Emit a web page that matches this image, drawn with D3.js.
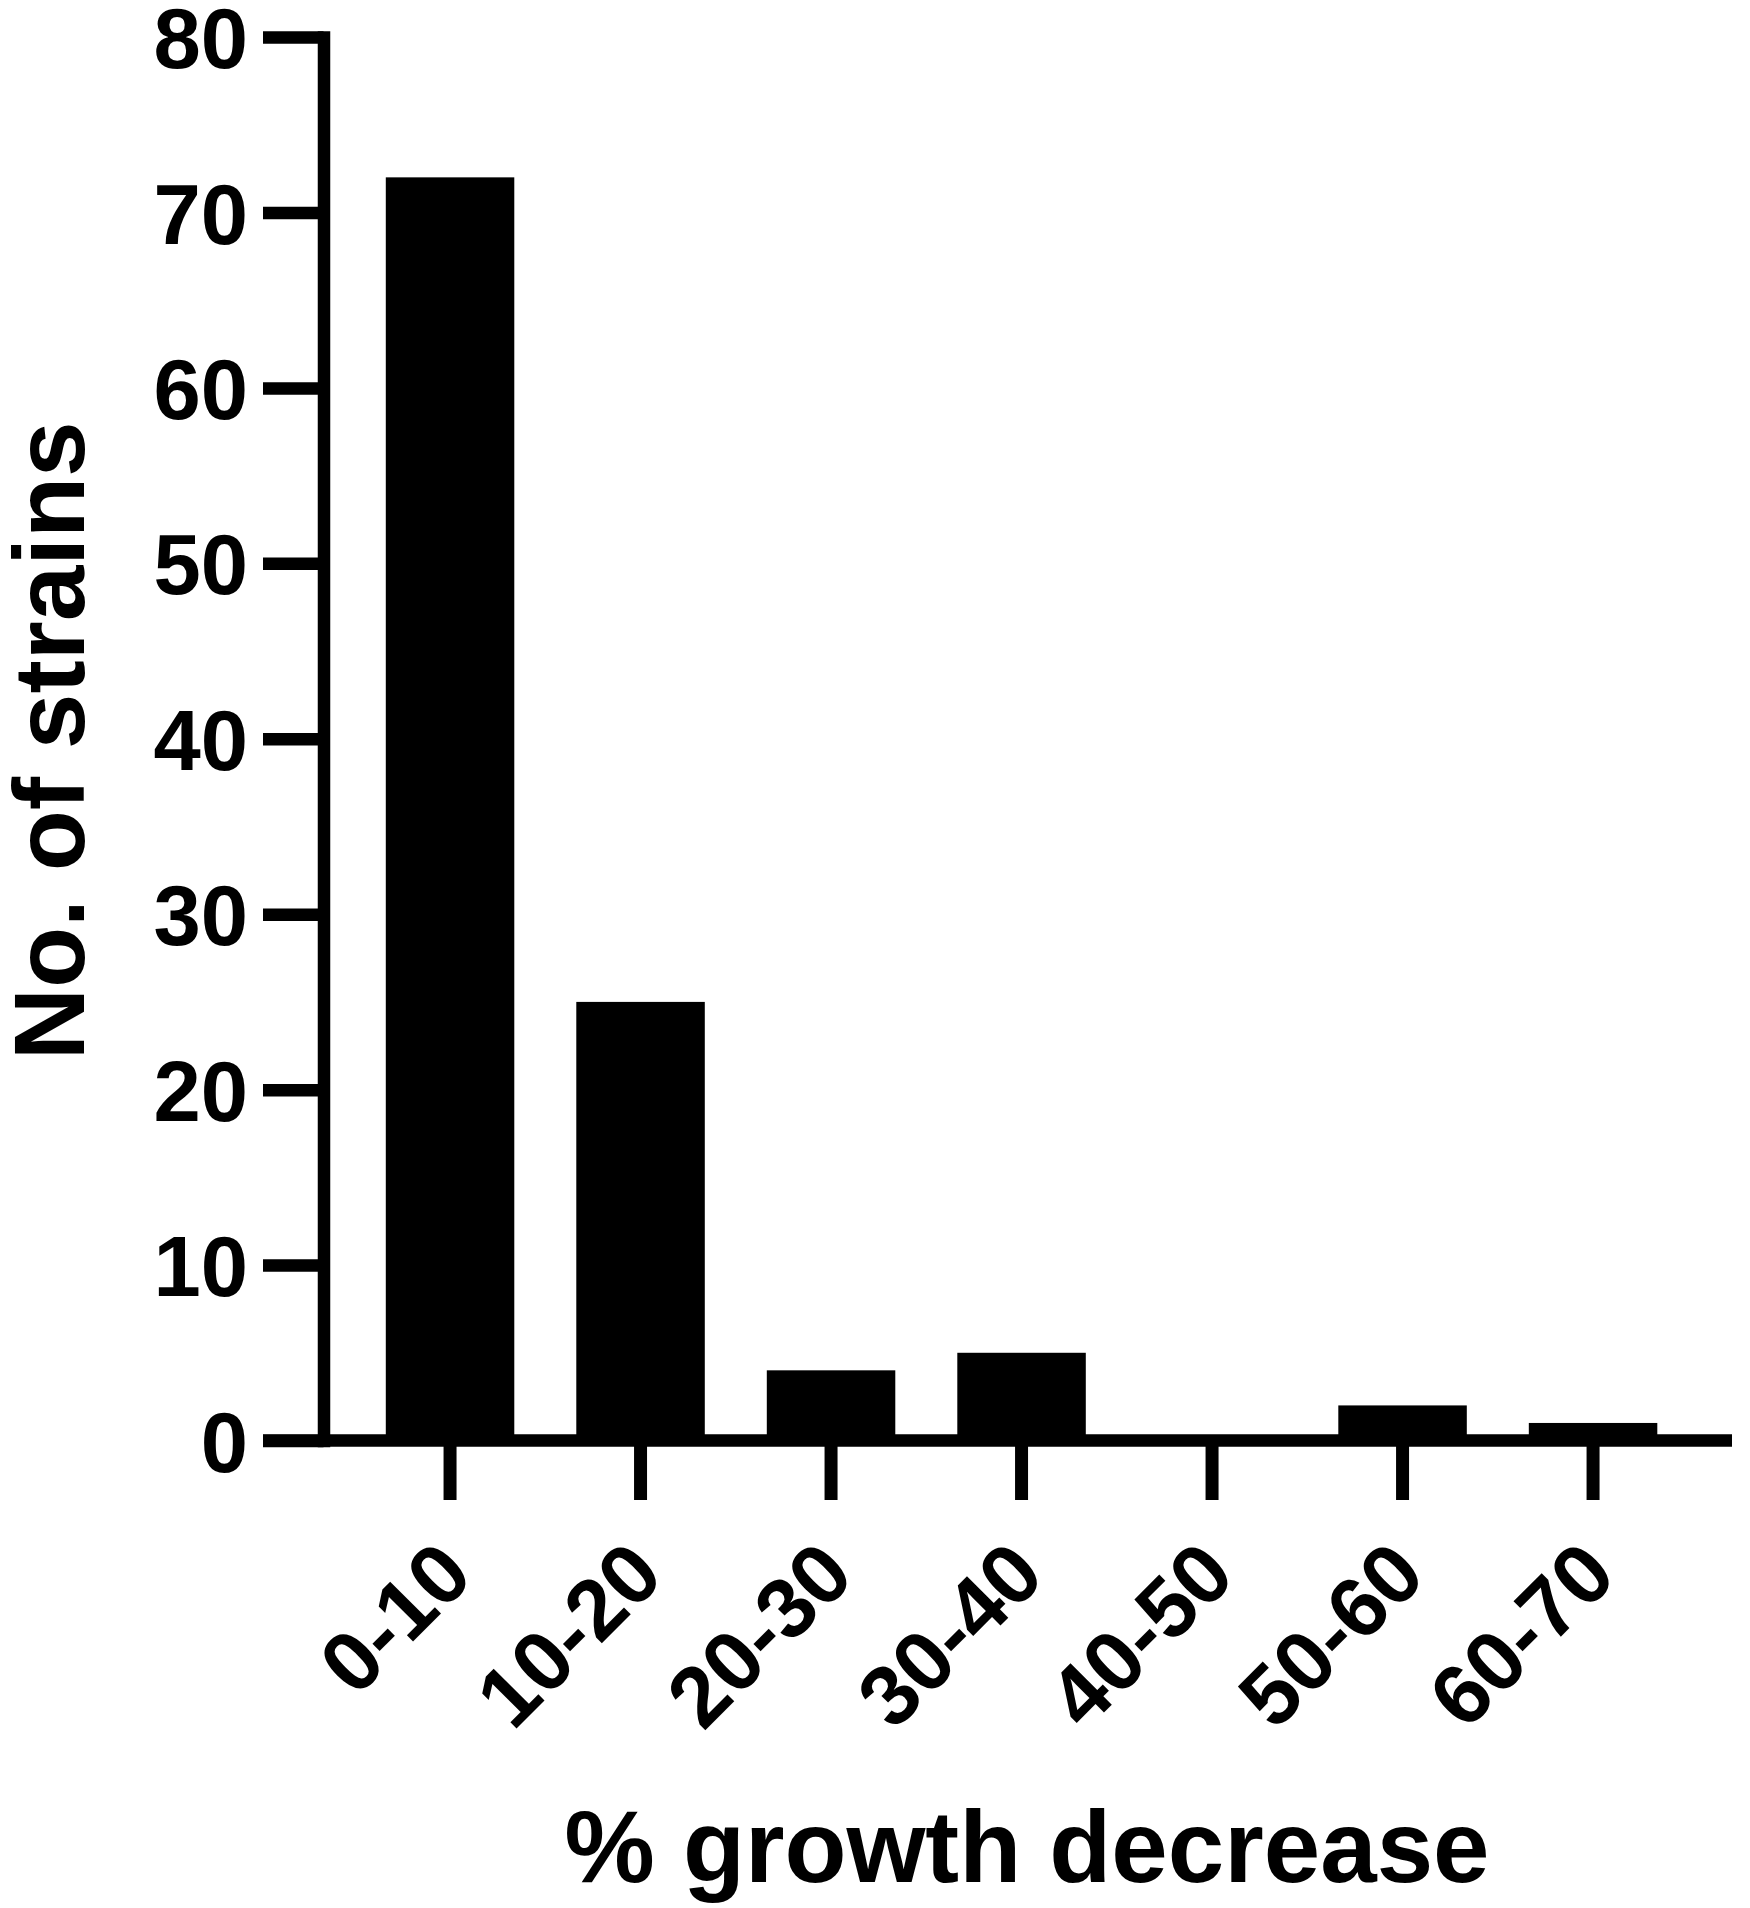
<!DOCTYPE html>
<html>
<head>
<meta charset="utf-8">
<script src="https://cdn.jsdelivr.net/npm/d3@7"></script>
<style>
  html, body { margin: 0; padding: 0; background: #fff; }
  svg { display: block; }
  text { font-family: "Liberation Sans", Arial, sans-serif; font-weight: bold; fill: #000; }
</style>
</head>
<body>
<svg id="chart" width="1750" height="1908"></svg>
<script>
// ---- data ----
const categories = ["0-10", "10-20", "20-30", "30-40", "40-50", "50-60", "60-70"];
const counts = [72, 25, 4, 5, 0, 2, 1];
const yTicks = [0, 10, 20, 30, 40, 50, 60, 70, 80];
const xTitle = "% growth decrease";
const yTitle = "No. of strains";

// ---- layout ----
const W = 1750, H = 1908;
const axisX = 323.5;      // y-axis line position
const baseY = 1440.5;     // x-axis line position
const topY = 37;
const lw = 12.5;          // line width
const tickLen = 60.5;

const svg = d3.select("#chart");

const y = d3.scaleLinear().domain([0, 80]).range([baseY, topY]);
const x = d3.scaleBand().domain(categories)
  .range([axisX, 1719.6])
  .paddingInner(0.3255)
  .paddingOuter(0.327);

// bars
svg.append("g").selectAll("rect")
  .data(categories.map((c, i) => ({c, v: counts[i]})))
  .join("rect")
  .attr("x", d => x(d.c))
  .attr("width", x.bandwidth())
  .attr("y", d => y(d.v))
  .attr("height", d => baseY - y(d.v))
  .attr("fill", "#000");

// y axis
const yAxis = svg.append("g")
  .attr("transform", `translate(${axisX},0)`)
  .call(d3.axisLeft(y).tickValues(yTicks).tickSize(tickLen).tickSizeOuter(0).tickFormat(d3.format("d")));
yAxis.select(".domain").attr("stroke", "#000").attr("stroke-width", lw).attr("stroke-linecap", "square");
yAxis.selectAll(".tick line").attr("stroke", "#000").attr("stroke-width", lw);
yAxis.selectAll(".tick text")
  .attr("x", -(axisX - 248))
  .attr("dy", "0.36em")
  .attr("font-size", 85)
  .attr("text-anchor", "end");

// x axis
const xAxis = svg.append("g")
  .attr("transform", `translate(0,${baseY})`)
  .call(d3.axisBottom(x).tickSize(59.5).tickSizeOuter(0));
xAxis.select(".domain").remove();
xAxis.insert("line", ":first-child")
  .attr("x1", axisX - tickLen).attr("x2", x.range()[1] + 12.4)
  .attr("y1", 0).attr("y2", 0)
  .attr("stroke", "#000").attr("stroke-width", lw);
xAxis.selectAll(".tick line").attr("stroke", "#000").attr("stroke-width", 13);
xAxis.selectAll(".tick text")
  .attr("x", 0).attr("y", 0).attr("dy", 0)
  .attr("font-size", 85)
  .attr("text-anchor", "end")
  .attr("transform", "translate(26,138) rotate(-45)");

// titles
svg.append("text")
  .attr("x", 1027).attr("y", 1882)
  .attr("text-anchor", "middle")
  .attr("font-size", 101.5)
  .text(xTitle);

svg.append("text")
  .attr("transform", `translate(84,${(topY + baseY) / 2 + 2}) rotate(-90)`)
  .attr("text-anchor", "middle")
  .attr("font-size", 100)
  .text(yTitle);
</script>
</body>
</html>
